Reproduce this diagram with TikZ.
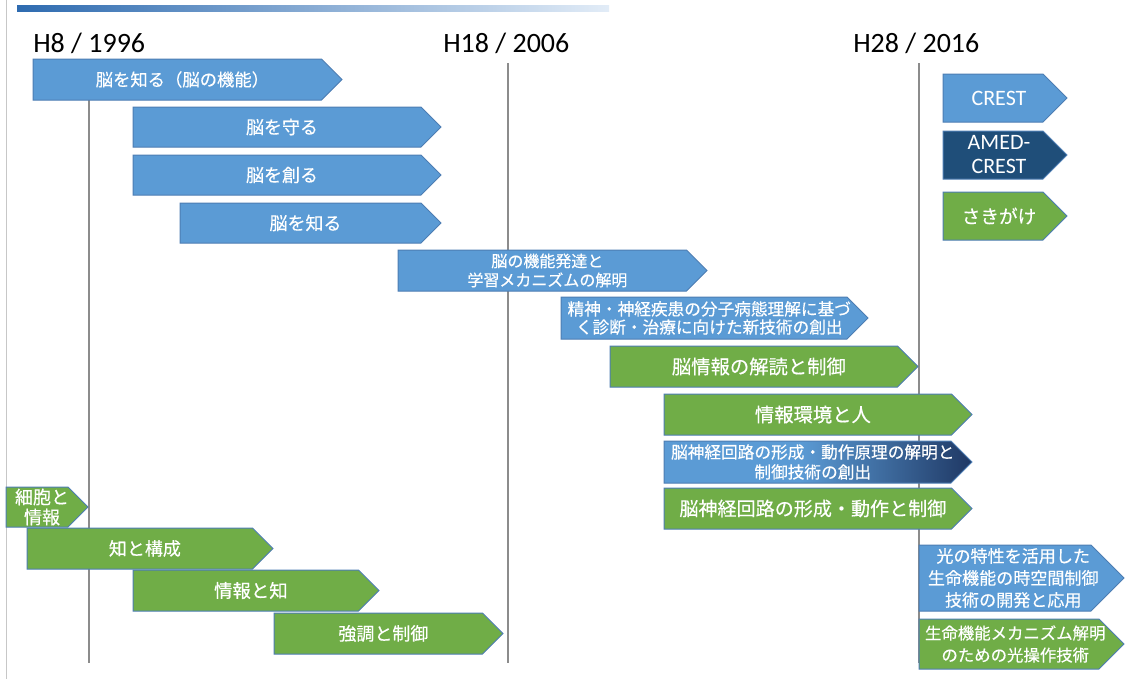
\documentclass[tikz,border=0pt]{standalone}
\usepackage{fontspec}
\newfontfamily\jp[FakeBold=0.35]{Noto Sans CJK JP}
\newfontfamily\calfont{Carlito}
\definecolor{pblue}{HTML}{5B9BD5}
\definecolor{pgreen}{HTML}{70AD47}
\definecolor{pnavy}{HTML}{1F4E79}
\definecolor{pdeep}{HTML}{1F3864}
\definecolor{pedge}{HTML}{4D7DB3}
\definecolor{barl}{HTML}{2E6BB0}
\definecolor{barr}{HTML}{E2ECF7}
\definecolor{grline}{HTML}{8C8C8C}
\pgfdeclarehorizontalshading{navyfade}{100bp}{color(0bp)=(pblue); color(25bp)=(pblue); color(47bp)=(pblue); color(75bp)=(pdeep); color(100bp)=(pdeep)}
\tikzset{
  bluearrow/.style={fill=pblue, draw=pedge, line width=0.75pt},
  greenarrow/.style={fill=pgreen, draw=pedge, line width=0.75pt},
  navyarrow/.style={fill=pnavy, draw=pedge, line width=0.75pt},
  fadearrow/.style={shading=navyfade, draw=pedge, line width=0.75pt},
  txt/.style={text=white, align=center, inner sep=0pt, font=\jp},
  yearlabel/.style={text=black, inner sep=0pt, font=\calfont\fontsize{21}{24}\selectfont},
  yearline/.style={draw=grline, line width=1.1pt},
}
% #1 style, #2 left x, #3 top y, #4 tip x, #5 bottom y, #6 name, #7 font size, #8 baselineskip, #9 text
\newcommand\parrow[9]{%
  \path[#1] (#2,#3) -- ({#4-(#5-#3)/2},#3) -- (#4,{(#3+#5)/2}) -- ({#4-(#5-#3)/2},#5) -- (#2,#5) -- cycle;
  \node[txt, font=\jp\fontsize{#7}{#8}\selectfont] (#6) at ({(#2+#4-(#5-#3)/4)/2},{(#3+#5)/2}) {#9};}
\begin{document}
\begin{tikzpicture}[x=0.75pt,y=-0.75pt]
\useasboundingbox (0,0) rectangle (1133,679);
\fill[white] (0,0) rectangle (1133,679);
\draw[draw=black!22, line width=0.75pt] (6,0) -- (6,679);
\shade[left color=barl, right color=barr] (17,5) rectangle (609,11);
% year labels
\node[yearlabel, anchor=west] (y1996) at (33,43) {H8 / 1996};
\node[yearlabel, anchor=west] (y2006) at (443,43) {H18 / 2006};
\node[yearlabel, anchor=west] (y2016) at (853,43) {H28 / 2016};
\coordinate (l1a) at (89,63); \coordinate (l1b) at (89,663);
\coordinate (l2a) at (508,63); \coordinate (l2b) at (508,663);
\coordinate (l3a) at (919,63); \coordinate (l3b) at (919,663);
\draw[yearline] (l1a) -- (l1b);
\draw[yearline] (l2a) -- (l2b);
\draw[yearline] (l3a) -- (l3b);
% CREST (blue)
\parrow{bluearrow}{33}{59}{342}{100}{a1}{13}{15}{脳を知る（脳の機能）}
\parrow{bluearrow}{133}{107}{441}{147}{a2}{13.5}{16}{脳を守る}
\parrow{bluearrow}{133}{155}{441}{195}{a3}{13.5}{16}{脳を創る}
\parrow{bluearrow}{180}{203}{441}{243}{a4}{13.5}{16}{脳を知る}
\parrow{bluearrow}{398}{250}{707}{291}{a5}{12}{14.3}{脳の機能発達と\\学習メカニズムの解明}
\parrow{bluearrow}{561}{297}{868}{339}{a6}{12.5}{13.6}{精神・神経疾患の分子病態理解に基づ\\く診断・治療に向けた新技術の創出}
% green
\parrow{greenarrow}{610}{346}{918}{387}{a7}{14.5}{17}{脳情報の解読と制御}
\parrow{greenarrow}{664}{394}{972}{435}{a8}{14.5}{17}{情報環境と人}
\parrow{fadearrow}{664}{441}{972}{483}{a9}{12.5}{15}{脳神経回路の形成・動作原理の解明と\\制御技術の創出}
\parrow{greenarrow}{664}{488}{972}{529}{a10}{14.3}{17}{脳神経回路の形成・動作と制御}
\parrow{greenarrow}{6}{487}{88}{527}{a11}{13.5}{15}{細胞と\\情報}
\parrow{greenarrow}{27}{528}{273}{569}{a12}{13.5}{16}{知と構成}
\parrow{greenarrow}{133}{570}{379}{611}{a13}{13.8}{16}{情報と知}
\parrow{greenarrow}{274}{613}{503}{654}{a14}{13.5}{16}{強調と制御}
\parrow{bluearrow}{919}{545}{1124}{611}{a15}{12.8}{16.5}{光の特性を活用した\\生命機能の時空間制御\\技術の開発と応用}
\parrow{greenarrow}{919}{619}{1124}{669}{a16}{12.3}{16.5}{生命機能メカニズム解明\\のための光操作技術}
% legend
\parrow{bluearrow}{943}{74}{1067}{122}{k1}{16.5}{18}{\calfont CREST}
\parrow{navyarrow}{943}{131}{1067}{179}{k2}{16.5}{18}{\calfont AMED-\\\calfont CREST}
\parrow{greenarrow}{943}{192}{1067}{240}{k3}{14}{16}{さきがけ}
\end{tikzpicture}
\end{document}
